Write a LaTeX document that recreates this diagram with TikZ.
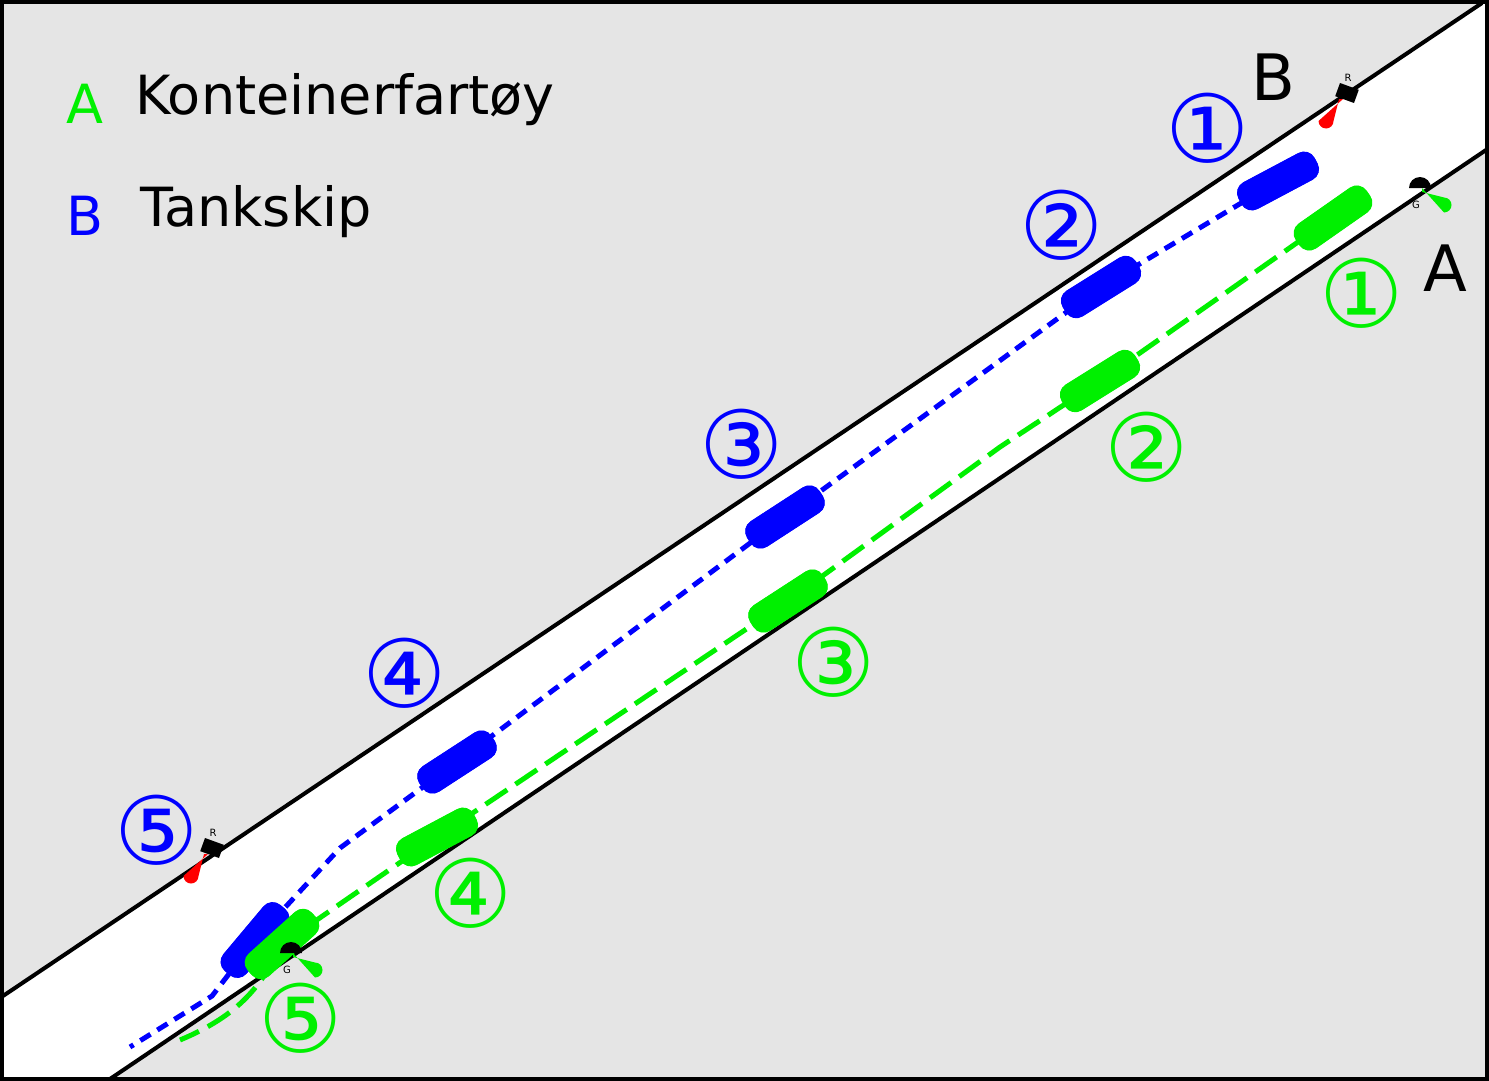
\documentclass[tikz,border=0pt]{standalone}
\usepackage{fontspec}
\setmainfont{DejaVu Sans}
\usetikzlibrary{calc}
\definecolor{landgrey}{HTML}{E5E5E5}
\definecolor{tankblue}{HTML}{0000FF}
\definecolor{contgreen}{HTML}{00F000}
\tikzset{
  vessel/.style={fill=#1,draw=none,rectangle,rounded corners=12pt,minimum width=86pt,minimum height=30pt,inner sep=0pt},
  numlabel/.style={font=\fontsize{94}{94}\selectfont,text=#1,inner sep=0pt},
  biglabel/.style={font=\fontsize{64}{64}\selectfont,inner sep=0pt},
  legend/.style={font=\fontsize{54}{54}\selectfont,inner sep=0pt,anchor=west},
  buoytext/.style={font=\fontsize{10}{10}\selectfont,inner sep=0pt}
}
\newcommand\lightdrop[4]{% x, y, angle, colour
  \begin{scope}[shift={(#1,#2)},rotate=#3]
    \fill[#4] (0,-2) -- (-22,-7.5) arc (90:270:7.5) -- (0,2) -- cycle;
  \end{scope}}
\begin{document}
\begin{tikzpicture}[x=1pt,y=-1pt]
  \useasboundingbox (0,0) rectangle (1489,1081);
  \fill[landgrey] (0,0) rectangle (1489,1081);
  % channel
  \fill[white] (0,998) -- (1482,3) -- (1489,3) -- (1489,148) -- (107,1081) -- (0,1081) -- cycle;
  \draw[line width=4pt] (0,998) -- (1482,3);
  \draw[line width=4pt] (107,1081) -- (1489,148);
  \draw[line width=4pt] (2,2) rectangle (1487,1079);

  % tankers
  \node[vessel=tankblue,rotate=28] (b1) at (1278,181) {};
  \node[vessel=tankblue,rotate=32] (b2) at (1101,287) {};
  \node[vessel=tankblue,rotate=33] (b3) at (785,517) {};
  \node[vessel=tankblue,rotate=33] (b4) at (457,762) {};
  \node[vessel=tankblue,rotate=50] (b5) at (255,940) {};
  % container ships
  \node[vessel=contgreen,rotate=35] (a1) at (1333,218) {};
  \node[vessel=contgreen,rotate=32] (a2) at (1100,381) {};
  \node[vessel=contgreen,rotate=33] (a3) at (788,601) {};
  \node[vessel=contgreen,rotate=28] (a4) at (437,837) {};
  \node[vessel=contgreen,rotate=42] (a5) at (282,944) {};

  \draw[tankblue,line width=5pt,dash pattern=on 12pt off 8pt]
    (b1.center) -- (b2.center) -- (b3.center) -- (b4.center) -- (340,848) -- (b5.center) -- (212,996) -- (130,1047);
  \draw[contgreen,line width=5pt,dash pattern=on 26pt off 10pt]
    (1365,195) -- (a2.center) -- (1000,447) -- (a3.center) -- (a4.center) -- (a5.center)
    .. controls (262,985) and (240,1015) .. (180,1040);
  % redraw vessels over the tracks
  \foreach \n/\c in {b1/tankblue,b2/tankblue,b3/tankblue,b4/tankblue,b5/tankblue,
                     a1/contgreen,a2/contgreen,a3/contgreen,a4/contgreen,a5/contgreen}
    \fill[\c,rounded corners=12pt] (\n.north west) -- (\n.north east) -- (\n.south east) -- (\n.south west) -- cycle;

  % buoys
  \foreach \x/\y in {1347/93,212/848} {
    \fill[black,rotate around={-20:(\x,\y)}] (\x-10,\y-7) rectangle (\x+10,\y+7);
    \lightdrop{\x-6}{\y+6}{90}{red}
    \node[buoytext] at (\x+1,\y-15) {R};
  }
  \foreach \x/\y in {1420/188,291/953} {
    \fill[black] (\x-11,\y) arc (180:360:11) -- cycle;
    \lightdrop{\x+2}{\y+2}{180}{contgreen}
    \node[buoytext] at (\x-4,\y+17) {G};
  }

  % position numbers
  \node[numlabel=tankblue] (nb1) at (1208,128) {①};
  \node[numlabel=tankblue] (nb2) at (1062,225) {②};
  \node[numlabel=tankblue] (nb3) at (742,444) {③};
  \node[numlabel=tankblue] (nb4) at (405,673) {④};
  \node[numlabel=tankblue] (nb5) at (157,830) {⑤};
  \node[numlabel=contgreen] (na1) at (1362,293) {①};
  \node[numlabel=contgreen] (na2) at (1147,447) {②};
  \node[numlabel=contgreen] (na3) at (834,662) {③};
  \node[numlabel=contgreen] (na4) at (471,893) {④};
  \node[numlabel=contgreen] (na5) at (301,1018) {⑤};

  % ends and legend
  \node[biglabel] (endb) at (1273,77) {B};
  \node[biglabel] (enda) at (1445,268) {A};
  \node[legend,text=contgreen] (lga) at (66,104) {A};
  \node[legend] (lgat) at (135,100) {Konteinerfartøy};
  \node[legend,text=tankblue] (lgb) at (66,216) {B};
  \node[legend] (lgbt) at (140,212) {Tankskip};
\end{tikzpicture}
\end{document}
